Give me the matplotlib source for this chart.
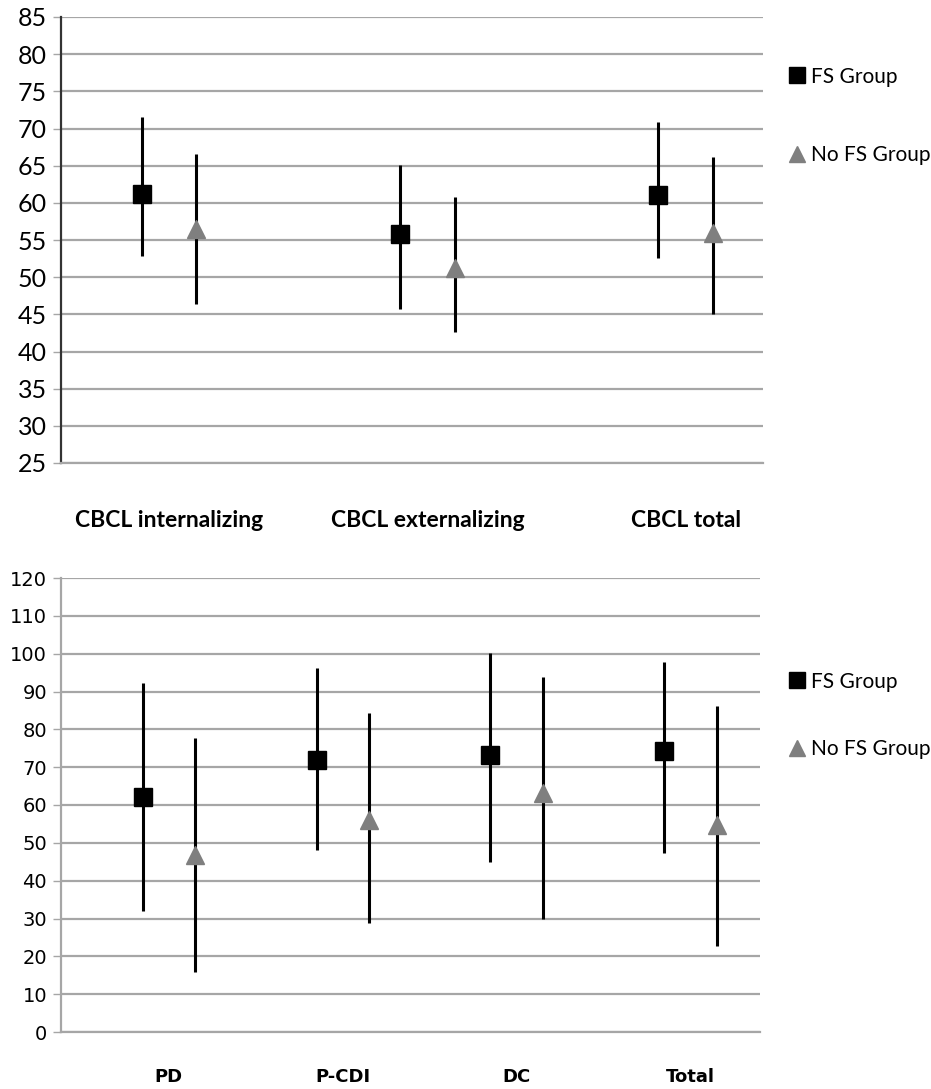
import matplotlib
matplotlib.use("Agg")
import matplotlib.pyplot as plt
from matplotlib.lines import Line2D
import numpy as np

plt.rcParams['font.family'] = ['Lato', 'DejaVu Sans']

# --- Top panel data (CBCL) ---
top_categories = ["CBCL internalizing", "CBCL externalizing", "CBCL total"]
top_fs_mean = [61.2, 55.8, 61.0]
top_fs_low = [52.8, 45.7, 52.6]
top_fs_high = [71.5, 65.1, 70.9]
top_nofs_mean = [56.5, 51.3, 55.9]
top_nofs_low = [46.4, 42.6, 45.1]
top_nofs_high = [66.6, 60.8, 66.2]
top_yticks = list(range(25, 90, 5))

# --- Bottom panel data ---
bot_categories = ["PD", "P-CDI", "DC", "Total"]
bot_fs_mean = [62.1, 71.9, 73.2, 74.3]
bot_fs_low = [32.0, 48.1, 44.9, 47.3]
bot_fs_high = [92.3, 96.2, 100.2, 97.8]
bot_nofs_mean = [46.8, 56.0, 63.1, 54.7]
bot_nofs_low = [15.9, 28.8, 29.9, 22.7]
bot_nofs_high = [77.7, 84.3, 93.8, 86.2]
bot_yticks = list(range(0, 130, 10))

legend_labels = ["FS Group", "No FS Group"]

fig = plt.figure(figsize=(9.31, 10.89), dpi=100)

W, H = 931, 1089
def ax_rect(l, r, t, b):
    return [l / W, 1 - b / H, (r - l) / W, (b - t) / H]

ax1 = fig.add_axes(ax_rect(61, 763, 17, 463))
ax2 = fig.add_axes(ax_rect(61, 760, 578, 1032))

grid_color = "#a6a6a6"
tri_color = "#7f7f7f"


def draw_panel(ax, cats, fs_m, fs_lo, fs_hi, nf_m, nf_lo, nf_hi, yticks,
               off, xlim, tick_fs, lab_fs, lab_pad, spine_color, family):
    x = np.arange(len(cats))
    xf = x - off
    xn = x + off
    ax.vlines(xf, fs_lo, fs_hi, color="black", lw=2.2, zorder=3)
    ax.vlines(xn, nf_lo, nf_hi, color="black", lw=2.2, zorder=3)
    ax.plot(xf, fs_m, ls="none", marker="s", ms=13, color="black", zorder=4)
    ax.plot(xn, nf_m, ls="none", marker="^", ms=13, color=tri_color, zorder=4)
    ax.set_ylim(yticks[0], yticks[-1])
    ax.set_yticks(yticks)
    ax.set_yticklabels([str(v) for v in yticks], fontsize=tick_fs,
                       family=family)
    ax.set_xlim(*xlim)
    ax.set_xticks(x)
    ax.set_xticklabels(cats, fontweight="bold", fontsize=lab_fs,
                       family=family)
    ax.tick_params(axis="x", length=0, pad=lab_pad)
    ax.tick_params(axis="y", length=6, width=1, color=grid_color, pad=4)
    ax.yaxis.grid(True, color=grid_color, lw=1.6, zorder=0)
    ax.set_axisbelow(True)
    for s in ["top", "right"]:
        ax.spines[s].set_visible(False)
    ax.spines["bottom"].set_color(grid_color)
    ax.spines["bottom"].set_linewidth(1.6)
    ax.spines["left"].set_color(spine_color)
    ax.spines["left"].set_linewidth(1.6)


draw_panel(ax1, top_categories, top_fs_mean, top_fs_low, top_fs_high,
           top_nofs_mean, top_nofs_low, top_nofs_high, top_yticks,
           off=0.105, xlim=(-0.42, 2.30), tick_fs=18, lab_fs=16.5,
           lab_pad=34, spine_color="#333333",
           family=['Lato', 'DejaVu Sans'])
draw_panel(ax2, bot_categories, bot_fs_mean, bot_fs_low, bot_fs_high,
           bot_nofs_mean, bot_nofs_low, bot_nofs_high, bot_yticks,
           off=0.15, xlim=(-0.62, 3.40), tick_fs=14, lab_fs=13,
           lab_pad=26, spine_color=grid_color,
           family=['DejaVu Sans'])

handles = [Line2D([], [], ls="none", marker="s", ms=11, color="black"),
           Line2D([], [], ls="none", marker="^", ms=11, color=tri_color)]

for y0, spacing in [(75, 2.8), (680, 2.27)]:
    fig.legend(handles, legend_labels, loc="upper left",
               bbox_to_anchor=(770 / W, 1 - (y0 - 27) / H),
               frameon=False, handlelength=0.8, handletextpad=0.25,
               labelspacing=spacing,
               prop={'family': ['Lato', 'DejaVu Sans'], 'size': 15})

fig.savefig("out.png", dpi=100)
